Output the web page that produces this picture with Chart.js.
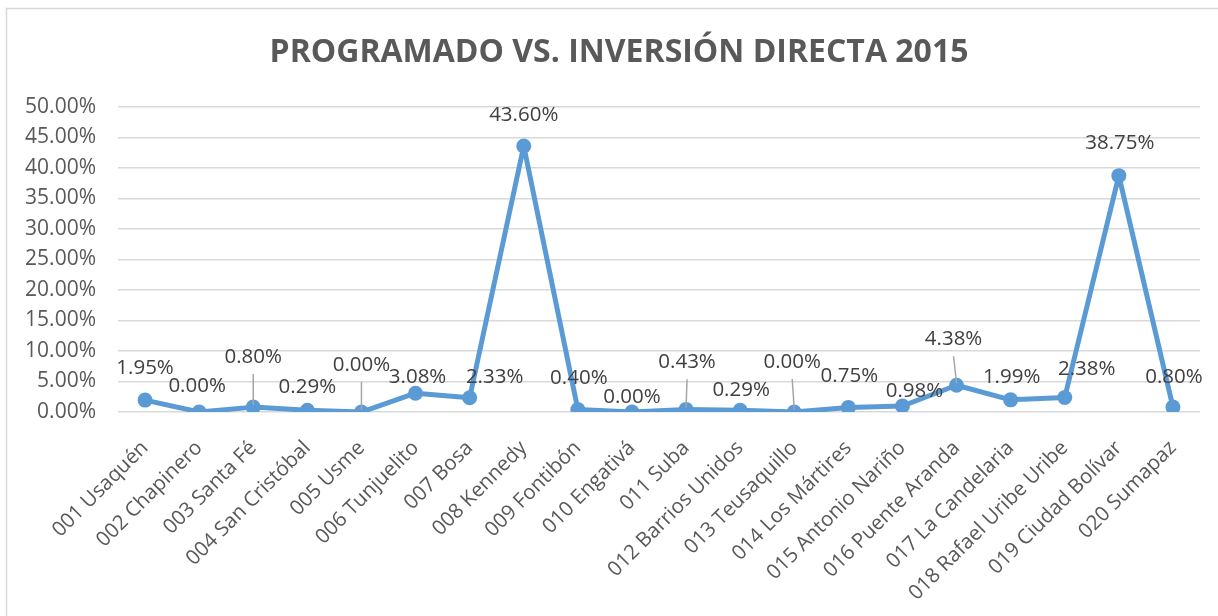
<!DOCTYPE html>
<html>
<head>
<meta charset="utf-8">
<script src="https://cdn.jsdelivr.net/npm/chart.js@4.4.0/dist/chart.umd.min.js"></script>
<style>
  html, body { margin: 0; padding: 0; background: #fff; }
  #wrap { width: 1218px; height: 616px; position: relative; }
</style>
</head>
<body>
<div id="wrap"><canvas id="grafico" width="1218" height="616"></canvas></div>
<script>
const titulo = 'PROGRAMADO VS. INVERSIÓN DIRECTA 2015';
const localidades = [
    '001 Usaquén', '002 Chapinero', '003 Santa Fé', '004 San Cristóbal', '005 Usme',
    '006 Tunjuelito', '007 Bosa', '008 Kennedy', '009 Fontibón', '010 Engativá',
    '011 Suba', '012 Barrios Unidos', '013 Teusaquillo', '014 Los Mártires', '015 Antonio Nariño',
    '016 Puente Aranda', '017 La Candelaria', '018 Rafael Uribe Uribe', '019 Ciudad Bolívar', '020 Sumapaz'
];
const porcentajes = [1.95, 0.00, 0.80, 0.29, 0.00, 3.08, 2.33, 43.60, 0.40, 0.00,
                     0.43, 0.29, 0.00, 0.75, 0.98, 4.38, 1.99, 2.38, 38.75, 0.80];
const ejeY = [0, 5, 10, 15, 20, 25, 30, 35, 40, 45, 50];

// desplazamiento de cada etiqueta respecto a su punto (como quedaron en Excel)
const etiquetaDx = [0, -2, 0, 0, 0, 2, 25, 0, 1, 0, 1, 1, -2, 1, 12, -3, 1, 22, 1, 1];
const etiquetaDy = [-32, -26, -50, -23, -47, -16, -21, -31, -31, -15, -47, -20, -50, -31, -15, -46, -23, -28, -32, -30];
const conGuia = [2, 4, 10, 12, 15];

const fuente = "'Open Sans', 'DejaVu Sans', sans-serif";

// marco del gráfico y título (el marco de Excel se corta por la derecha)
const marco = {
    id: 'marco',
    beforeDraw(chart) {
        const c = chart.ctx;
        c.save();
        c.fillStyle = '#ffffff';
        c.fillRect(0, 0, chart.width, chart.height);
        c.strokeStyle = '#d9d9d9';
        c.lineWidth = 1.5;
        c.beginPath();
        c.moveTo(6.5, chart.height);
        c.lineTo(6.5, 8.5);
        c.lineTo(chart.width, 8.5);
        c.stroke();
        c.font = 'bold 32px ' + fuente;
        c.fillStyle = '#595959';
        c.textAlign = 'center';
        c.textBaseline = 'middle';
        c.fillText(titulo, 619, 53);
        c.restore();
    }
};

const etiquetas = {
    id: 'etiquetas',
    afterDatasetsDraw(chart) {
        const c = chart.ctx;
        const pts = chart.getDatasetMeta(0).data;
        c.save();
        c.font = '20.5px ' + fuente;
        c.fillStyle = '#404040';
        c.textAlign = 'center';
        c.textBaseline = 'middle';
        pts.forEach((p, i) => {
            const lx = p.x + etiquetaDx[i];
            const ly = p.y + etiquetaDy[i];
            if (conGuia.includes(i)) {
                c.strokeStyle = '#a6a6a6';
                c.lineWidth = 1.5;
                c.beginPath();
                c.moveTo(lx, ly + 17);
                c.lineTo(p.x, p.y - 2);
                c.stroke();
            }
            c.fillText(porcentajes[i].toFixed(2) + '%', lx, ly);
        });
        c.restore();
    }
};

new Chart(document.getElementById('grafico').getContext('2d'), {
    type: 'line',
    data: {
        labels: localidades,
        datasets: [{
            label: 'Inversión directa',
            data: porcentajes,
            borderColor: '#5b9bd5',
            backgroundColor: '#5b9bd5',
            borderWidth: 5,
            borderJoinStyle: 'round',
            borderCapStyle: 'round',
            pointRadius: 7.5,
            pointHoverRadius: 7.5,
            pointBorderWidth: 0,
            tension: 0
        }]
    },
    options: {
        responsive: false,
        animation: false,
        layout: { padding: { left: 0, right: 18, top: 107, bottom: 0 } },
        plugins: {
            legend: { display: false },
            tooltip: { enabled: false },
            title: { display: false }
        },
        scales: {
            x: {
                offset: true,
                grid: { display: false, drawTicks: false },
                border: { display: false },
                ticks: {
                    autoSkip: false,
                    minRotation: 45,
                    maxRotation: 45,
                    padding: 24,
                    color: '#595959',
                    font: { family: fuente, size: 20.5 }
                },
                afterFit(axis) { axis.height = 204; }
            },
            y: {
                min: ejeY[0],
                max: ejeY[ejeY.length - 1],
                afterBuildTicks(axis) { axis.ticks = ejeY.map(v => ({ value: v })); },
                grid: { color: '#d9d9d9', lineWidth: 1.5, drawTicks: false },
                border: { display: false },
                ticks: {
                    padding: 22,
                    color: '#595959',
                    font: { family: fuente, size: 21 },
                    callback: v => v.toFixed(2) + '%'
                },
                afterFit(axis) { axis.width = 118; }
            }
        }
    },
    plugins: [marco, etiquetas]
});
</script>
</body>
</html>
